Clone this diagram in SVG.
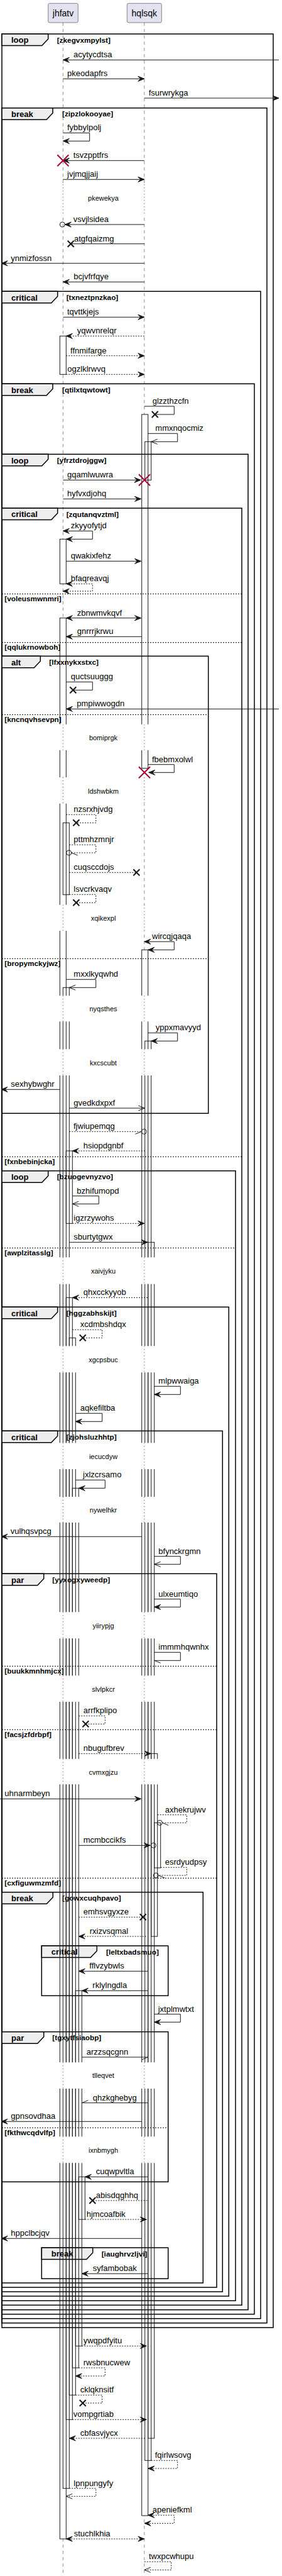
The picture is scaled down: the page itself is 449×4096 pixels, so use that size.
<svg xmlns="http://www.w3.org/2000/svg" xmlns:xlink="http://www.w3.org/1999/xlink" width="449" height="4096" viewBox="0 0 449 4096">
<style>
text{font-family:"Liberation Sans",Arial,sans-serif;fill:#000}
.ll{stroke:#181818;stroke-width:0.5;stroke-dasharray:5,5;fill:none}
.dl{stroke:#A80036;stroke-width:1;stroke-dasharray:1,4;fill:none}
.fr{fill:none;stroke:#000;stroke-width:1.5}
.tab{fill:#EEEEEE;stroke:#000;stroke-width:1.5}
.ft{font-size:13px;font-weight:bold}
.gt{font-size:11.8px;font-weight:bold}
.sep{stroke:#000;stroke-width:1;stroke-dasharray:2,2}
.m{fill:none;stroke:#181818;stroke-width:1}
.d{stroke-dasharray:2,2}
.t{font-size:13px}
.dt{font-size:11px;text-anchor:middle}
.x{stroke:#181818;stroke-width:2}
.rx{stroke:#A80036;stroke-width:2}
.c{fill:none;stroke:#181818;stroke-width:1}
.pb{fill:#E2E2F0;stroke:#181818;stroke-width:0.5}
.pt{font-size:14px;text-anchor:middle}
</style>
<defs>
<marker id="f" viewBox="-1 -1 12 10" refX="10" refY="4" markerWidth="12" markerHeight="10" markerUnits="userSpaceOnUse" orient="auto-start-reverse"><path d="M0,0 L10,4 L0,8 L4,4 Z" fill="#181818" stroke="#181818" stroke-width="1"/></marker>
<marker id="o" viewBox="-1 -1 12 10" refX="10" refY="4" markerWidth="12" markerHeight="10" markerUnits="userSpaceOnUse" orient="auto"><path d="M0,0 L10,4 L0,8" fill="none" stroke="#181818" stroke-width="1"/></marker>
<marker id="hp" viewBox="-1 -1 12 10" refX="10" refY="4" markerWidth="12" markerHeight="10" markerUnits="userSpaceOnUse" orient="auto"><path d="M0,8 L10,4" fill="none" stroke="#181818" stroke-width="1"/></marker>
<marker id="hm" viewBox="-1 -1 12 10" refX="10" refY="4" markerWidth="12" markerHeight="10" markerUnits="userSpaceOnUse" orient="auto"><path d="M0,0 L10,4" fill="none" stroke="#181818" stroke-width="1"/></marker>
<clipPath id="nd">
<rect x="0" y="0" width="449" height="293.3"/>
<rect x="0" y="341.7" width="449" height="810"/>
<rect x="0" y="1192.7" width="449" height="43.3"/>
<rect x="0" y="1277.7" width="449" height="161"/>
<rect x="0" y="1480" width="449" height="103.3"/>
<rect x="0" y="1624.3" width="449" height="44"/>
<rect x="0" y="1710" width="449" height="289.3"/>
<rect x="0" y="2041.7" width="449" height="98.6"/>
<rect x="0" y="2182.3" width="449" height="112"/>
<rect x="0" y="2336" width="449" height="44"/>
<rect x="0" y="2421" width="449" height="142.3"/>
<rect x="0" y="2605.3" width="449" height="59"/>
<rect x="0" y="2706" width="449" height="90.7"/>
<rect x="0" y="2837.3" width="449" height="442"/>
<rect x="0" y="3321" width="449" height="76.3"/>
<rect x="0" y="3439.3" width="449" height="656.7"/>
</clipPath>
<g id="acts">
<rect x="95.3" y="534.3" width="10" height="61"/>
<rect x="95.3" y="857.3" width="10" height="71"/>
<rect x="95.3" y="982.7" width="10" height="3054.3"/>
<rect x="100.3" y="1308.3" width="10" height="114.4"/>
<rect x="100.3" y="1570.3" width="10" height="2386.4"/>
<rect x="105.3" y="1830" width="10" height="115.3"/>
<rect x="105.3" y="2063.3" width="10" height="1784"/>
<rect x="110.3" y="2127.3" width="10" height="1681"/>
<rect x="115.3" y="2366.3" width="10" height="1398.7"/>
<rect x="120.3" y="3165.3" width="10" height="565"/>
<rect x="125.3" y="3461.3" width="10" height="67.7"/>
<rect x="225.7" y="659" width="10" height="562.7"/>
<rect x="230.7" y="702.3" width="10" height="61"/>
<rect x="225.7" y="1510.3" width="10" height="2489.7"/>
<rect x="230.7" y="1655.3" width="10" height="2257"/>
<rect x="235.7" y="1975.3" width="10" height="1901.7"/>
<rect x="240.7" y="2788.3" width="10" height="290.7"/>
<rect x="245.7" y="2898.3" width="10" height="71.7"/>
</g>
</defs>
<rect x="0" y="0" width="449" height="4096" fill="#fff"/>
<g id="lifelines">
<g clip-path="url(#nd)">
<line class="ll" x1="100.3" y1="36" x2="100.3" y2="4094"/>
<line class="ll" x1="229.8" y1="36" x2="229.8" y2="4094"/>
</g>
<path class="dl" d="M100.3,293.3V341.7M229.8,293.3V341.7M100.3,1151.7V1192.7M229.8,1151.7V1192.7M100.3,1236V1277.7M229.8,1236V1277.7M100.3,1438.7V1480M229.8,1438.7V1480M100.3,1583.3V1624.3M229.8,1583.3V1624.3M100.3,1668.3V1710M229.8,1668.3V1710M100.3,1999.3V2041.7M229.8,1999.3V2041.7M100.3,2140.3V2182.3M229.8,2140.3V2182.3M100.3,2294.3V2336M229.8,2294.3V2336M100.3,2380V2421M229.8,2380V2421M100.3,2563.3V2605.3M229.8,2563.3V2605.3M100.3,2664.3V2706M229.8,2664.3V2706M100.3,2796.7V2837.3M229.8,2796.7V2837.3M100.3,3279.3V3321M229.8,3279.3V3321M100.3,3397.3V3439.3M229.8,3397.3V3439.3"/>
</g>
<use href="#acts" xlink:href="#acts" fill="#fff" stroke="none" clip-path="url(#nd)"/>
<g id="frames">
<rect class="fr" x="3" y="54" width="432" height="3647"/>
<path class="tab" d="M3,54H76.7V62L66.7,72.5H3Z"/><text class="ft" x="18" y="68.3">loop</text><text class="gt" x="90.7" y="67.5">[zkegvxmpylst]</text>
<rect class="fr" x="3" y="171.7" width="422" height="3522"/>
<path class="tab" d="M3,171.7H84V179.7L74,190.2H3Z"/><text class="ft" x="18" y="186">break</text><text class="gt" x="99" y="185.2">[zipzlokooyae]</text>
<rect class="fr" x="3" y="463.3" width="412" height="3223.4"/>
<path class="tab" d="M3,463.3H91.7V471.3L81.7,481.8H3Z"/><text class="ft" x="18" y="477.6">critical</text><text class="gt" x="105.7" y="476.8">[txneztpnzkao]</text>
<rect class="fr" x="3" y="610.3" width="402" height="3069.4"/>
<path class="tab" d="M3,610.3H84V618.3L74,628.8H3Z"/><text class="ft" x="18" y="624.6">break</text><text class="gt" x="99" y="623.8">[qtilxtqwtowt]</text>
<rect class="fr" x="3" y="722.3" width="392" height="2950.4"/>
<path class="tab" d="M3,722.3H76.7V730.3L66.7,740.8H3Z"/><text class="ft" x="18" y="736.6">loop</text><text class="gt" x="90.7" y="735.8">[yfrztdrojggw]</text>
<rect class="fr" x="3" y="808" width="382" height="2857.3"/>
<path class="tab" d="M3,808H91.7V816L81.7,826.5H3Z"/><text class="ft" x="18" y="822.3">critical</text><text class="gt" x="105.7" y="821.5">[zqutanqvztml]</text>
<line class="sep" x1="3" y1="944.3" x2="385" y2="944.3"/><text class="gt" x="7.3" y="956">[voleusmwnmri]</text>
<line class="sep" x1="3" y1="1021.7" x2="385" y2="1021.7"/><text class="gt" x="7.3" y="1033.4">[qqlukrnowboh]</text>
<line class="sep" x1="3" y1="1839.3" x2="385" y2="1839.3"/><text class="gt" x="7.3" y="1851">[fxnbebinjcka]</text>
<rect class="fr" x="3" y="1043.3" width="328.7" height="727"/>
<path class="tab" d="M3,1043.3H64.3V1051.3L54.3,1061.8H3Z"/><text class="ft" x="18" y="1057.6">alt</text><text class="gt" x="78.3" y="1056.8">[lfxxnykxstxc]</text>
<line class="sep" x1="3" y1="1136.3" x2="331.7" y2="1136.3"/><text class="gt" x="7.3" y="1148">[kncnqvhsevpn]</text>
<line class="sep" x1="3" y1="1524.3" x2="331.7" y2="1524.3"/><text class="gt" x="7.3" y="1536">[bropymckyjwz]</text>
<rect class="fr" x="3" y="1861.7" width="372" height="1796.6"/>
<path class="tab" d="M3,1861.7H76.7V1869.7L66.7,1880.2H3Z"/><text class="ft" x="18" y="1876">loop</text><text class="gt" x="90.7" y="1875.2">[bzuogevnyzvo]</text>
<line class="sep" x1="3" y1="1984.3" x2="375" y2="1984.3"/><text class="gt" x="7.3" y="1996">[awplzitasslg]</text>
<rect class="fr" x="3" y="2078.3" width="361.3" height="1572.7"/>
<path class="tab" d="M3,2078.3H91.7V2086.3L81.7,2096.8H3Z"/><text class="ft" x="18" y="2092.6">critical</text><text class="gt" x="105.7" y="2091.8">[hggzabhskijt]</text>
<rect class="fr" x="3" y="2275.3" width="351.3" height="1368.7"/>
<path class="tab" d="M3,2275.3H91.7V2283.3L81.7,2293.8H3Z"/><text class="ft" x="18" y="2289.6">critical</text><text class="gt" x="105.7" y="2288.8">[zjohsluzhhtp]</text>
<rect class="fr" x="3" y="2502.3" width="342" height="1134.7"/>
<path class="tab" d="M3,2502.3H69.7V2510.3L59.7,2520.8H3Z"/><text class="ft" x="18" y="2516.6">par</text><text class="gt" x="83.3" y="2515.8">[yyxogxyweedp]</text>
<line class="sep" x1="3" y1="2649.3" x2="345" y2="2649.3"/><text class="gt" x="7.3" y="2661">[buukkmnhmjcx]</text>
<line class="sep" x1="3" y1="2750.3" x2="345" y2="2750.3"/><text class="gt" x="7.3" y="2762">[facsjzfdrbpf]</text>
<line class="sep" x1="3" y1="2986.3" x2="345" y2="2986.3"/><text class="gt" x="7.3" y="2998">[cxfiguwmzmfd]</text>
<rect class="fr" x="3" y="3008.7" width="320.3" height="621.3"/>
<path class="tab" d="M3,3008.7H84.3V3016.7L74.3,3027.2H3Z"/><text class="ft" x="18" y="3023">break</text><text class="gt" x="99" y="3022.2">[gowxcuqhpavo]</text>
<rect class="fr" x="66.3" y="3094" width="201.4" height="79.3"/>
<path class="tab" d="M66.3,3094H154.3V3102L144.3,3112.5H66.3Z"/><text class="ft" x="81.7" y="3108.3">critical</text><text class="gt" x="169" y="3107.5">[leltxbadsmuo]</text>
<rect class="fr" x="3" y="3230.7" width="264.7" height="238.6"/>
<path class="tab" d="M3,3230.7H69.7V3238.7L59.7,3249.2H3Z"/><text class="ft" x="18" y="3245">par</text><text class="gt" x="83.3" y="3244.2">[tgxytfsiaobp]</text>
<line class="sep" x1="3" y1="3383.3" x2="267.7" y2="3383.3"/><text class="gt" x="7.3" y="3395">[fkthwcqdvlfp]</text>
<rect class="fr" x="66.3" y="3574" width="201.4" height="49.3"/>
<path class="tab" d="M66.3,3574H147.7V3582L137.7,3592.5H66.3Z"/><text class="ft" x="81.7" y="3588.3">break</text><text class="gt" x="161.7" y="3587.5">[iaughrvzljvi]</text>
</g>
<use href="#acts" xlink:href="#acts" fill="none" stroke="#181818" stroke-width="1" clip-path="url(#nd)"/>
<g id="delays">
<text class="dt" x="164.5" y="318.5">pkewekya</text>
<text class="dt" x="164.5" y="1176.8">bomiprgk</text>
<text class="dt" x="164.5" y="1261.8">ldshwbkm</text>
<text class="dt" x="164.5" y="1463.5">xqikexpl</text>
<text class="dt" x="164.5" y="1607.8">nyqsthes</text>
<text class="dt" x="164.5" y="1693.5">kxcscubt</text>
<text class="dt" x="164.5" y="2024.5">xaivjyku</text>
<text class="dt" x="164.5" y="2165.8">xgcpsbuc</text>
<text class="dt" x="164.5" y="2319.8">iecucdyw</text>
<text class="dt" x="164.5" y="2404.8">nywelhkr</text>
<text class="dt" x="164.5" y="2589.2">yiirypjg</text>
<text class="dt" x="164.5" y="2689.5">slvlpkcr</text>
<text class="dt" x="164.5" y="2821.8">cvmxgjzu</text>
<text class="dt" x="164.5" y="3304.2">tlleqvet</text>
<text class="dt" x="164.5" y="3422.8">ixnbmygh</text>
</g>
<g id="jhfatv"><rect class="pb" x="76.7" y="5.3" width="47.6" height="30.7" rx="2.5"/><text class="pt" x="100.5" y="26">jhfatv</text></g>
<g id="hqlsqk"><rect class="pb" x="202.3" y="5.3" width="55" height="30.7" rx="2.5"/><text class="pt" x="229.8" y="26">hqlsqk</text></g>
<g id="connectors">
<line class="m" x1="444" y1="95.3" x2="100.3" y2="95.3" marker-end="url(#f)"/><text class="t" x="117" y="91.3">acytycdtsa</text>
<line class="m" x1="100.3" y1="125.3" x2="229.8" y2="125.3" marker-end="url(#f)"/><text class="t" x="107" y="121.3">pkeodapfrs</text>
<line class="m" x1="229.8" y1="156" x2="444" y2="156" marker-end="url(#f)"/><text class="t" x="236.7" y="152">fsurwrykga</text>
<path class="m" d="M100.3,211.3H142.7V224.3H100.3" marker-end="url(#f)"/><text class="t" x="107" y="207.3">fybbylpolj</text>
<line class="m" x1="229.8" y1="255.3" x2="100.3" y2="255.3" marker-end="url(#f)"/><path class="rx" d="M91.3,246.3L109.3,264.3M109.3,246.3L91.3,264.3"/><text class="t" x="116.7" y="251.3">tsvzpptfrs</text>
<line class="m" x1="100.3" y1="285.3" x2="229.8" y2="285.3" marker-end="url(#f)"/><text class="t" x="107" y="281.3">jvjmqjjaij</text>
<line class="m" x1="229.8" y1="357" x2="103.3" y2="357" marker-end="url(#f)"/><circle class="c" cx="99.3" cy="357" r="4"/><text class="t" x="116.7" y="353">vsvjlsidea</text>
<line class="m" x1="229.8" y1="387.7" x2="112.7" y2="387.7"/><path class="x" d="M107.7,382.7L117.7,392.7M117.7,382.7L107.7,392.7"/><text class="t" x="118" y="383.7">atgfqaizmg</text>
<line class="m" x1="229.8" y1="418.7" x2="2" y2="418.7" marker-end="url(#f)"/><text class="t" x="17.3" y="414.7">ynmizfossn</text>
<line class="m" x1="229.8" y1="448.3" x2="100.3" y2="448.3" marker-end="url(#f)"/><text class="t" x="117.3" y="444.3">bcjvfrfqye</text>
<line class="m" x1="100.3" y1="504.3" x2="229.8" y2="504.3" marker-end="url(#f)"/><text class="t" x="107" y="500.3">tqvttkjejs</text>
<line class="m d" x1="229.8" y1="534.3" x2="105.3" y2="534.3" marker-end="url(#f)"/><text class="t" x="122.7" y="530.3">yqwvnrelqr</text>
<line class="m d" x1="105.3" y1="565.7" x2="229.8" y2="565.7" marker-end="url(#f)"/><text class="t" x="112" y="561.7">ffnmifarge</text>
<line class="m d" x1="105.3" y1="595.3" x2="229.8" y2="595.3" marker-end="url(#f)"/><text class="t" x="107.3" y="591.3">ogzlklrwvq</text>
<path class="m" d="M229.8,646H277.3V659H246.7"/><path class="x" d="M241.7,654L251.7,664M251.7,654L241.7,664"/><text class="t" x="242.7" y="642">glzzthzcfn</text>
<path class="m" d="M235.7,689.3H282.7V702.3H240.7" marker-end="url(#o)"/><text class="t" x="247.3" y="685.3">mmxnqocmiz</text>
<line class="m" x1="100.3" y1="763.3" x2="224" y2="763.3" marker-end="url(#f)"/><path class="rx" d="M221,754.3L239,772.3M239,754.3L221,772.3"/><text class="t" x="107" y="759.3">gqamlwuwra</text>
<line class="m" x1="100.3" y1="793.3" x2="224.5" y2="793.3" marker-end="url(#f)"/><text class="t" x="107" y="789.3">hyfvxdjohq</text>
<path class="m" d="M100.3,844.3H147.3V857.3H105.3" marker-start="url(#f)" marker-end="url(#f)"/><text class="t" x="112.7" y="840.3">zkyyofytjd</text>
<line class="m" x1="105.3" y1="892.3" x2="224.5" y2="892.3" marker-end="url(#f)"/><text class="t" x="112.7" y="888.3">qwakixfehz</text>
<path class="m d" d="M105.3,928.3H147.3V940H100.3" marker-start="url(#f)" marker-end="url(#f)"/><text class="t" x="112.7" y="924.3">bfaqreavqj</text>
<line class="m" x1="105.3" y1="982.7" x2="224.5" y2="982.7" marker-start="url(#f)" marker-end="url(#f)"/><text class="t" x="122.7" y="978.7">zbnwmvkqvf</text>
<line class="m" x1="225.7" y1="1012.3" x2="105.3" y2="1012.3" marker-end="url(#f)"/><text class="t" x="122.7" y="1008.3">gnrrrjkrwu</text>
<path class="m" d="M105.3,1084.3H147.3V1097.3H116.3"/><path class="x" d="M111.3,1092.3L121.3,1102.3M121.3,1092.3L111.3,1102.3"/><text class="t" x="112.7" y="1080.3">quctsuuggg</text>
<line class="m" x1="444" y1="1127.3" x2="105.3" y2="1127.3" marker-end="url(#f)"/><text class="t" x="122.3" y="1123.3">pmpiwwogdn</text>
<path class="m" d="M235.7,1215.7H277.3V1228.3H236.7" marker-end="url(#f)"/><path class="rx" d="M221,1219.3L239,1237.3M239,1219.3L221,1237.3"/><text class="t" x="242" y="1211.7">fbebmxolwl</text>
<path class="m d" d="M105.3,1295.3H152.7V1308.3H121.3"/><path class="x" d="M116.3,1303.3L126.3,1313.3M126.3,1303.3L116.3,1313.3"/><text class="t" x="117.3" y="1291.3">nzsrxhjvdg</text>
<path class="m d" d="M110.3,1343.3H152.7V1356H113.7" marker-end="url(#hm)"/><circle class="c" cx="109.7" cy="1356" r="4"/><text class="t" x="117.3" y="1339.3">pttmhzmnjr</text>
<line class="m d" x1="110.3" y1="1387.3" x2="217.3" y2="1387.3"/><path class="x" d="M212.3,1382.3L222.3,1392.3M222.3,1382.3L212.3,1392.3"/><text class="t" x="117.3" y="1383.3">cuqsccdojs</text>
<path class="m d" d="M110.3,1422.3H152.7V1435.3H121.3"/><path class="x" d="M116.3,1430.3L126.3,1440.3M126.3,1430.3L116.3,1440.3"/><text class="t" x="117.3" y="1418.3">lsvcrkvaqv</text>
<path class="m" d="M229.8,1497.3H277.3V1510.3H235.7" marker-start="url(#f)" marker-end="url(#f)"/><text class="t" x="242" y="1493.3">wircqjqaqa</text>
<path class="m" d="M105.3,1557.3H152.7V1570.3H110.3" marker-end="url(#o)"/><text class="t" x="117.3" y="1553.3">mxxlkyqwhd</text>
<path class="m" d="M235.7,1642.3H282.7V1655.3H240.7" marker-end="url(#f)"/><text class="t" x="247.7" y="1638.3">yppxmavyyd</text>
<line class="m" x1="95.3" y1="1732.3" x2="2" y2="1732.3" marker-end="url(#f)"/><text class="t" x="17.3" y="1728.3">sexhybwghr</text>
<line class="m" x1="110.3" y1="1762" x2="230.3" y2="1762" marker-end="url(#o)"/><text class="t" x="117.3" y="1758">gvedkdxpxf</text>
<line class="m d" x1="110.3" y1="1799.3" x2="225.3" y2="1799.3" marker-end="url(#hp)"/><circle class="c" cx="229.3" cy="1799.3" r="4"/><text class="t" x="117" y="1795.3">fjwiupemqg</text>
<line class="m d" x1="230.7" y1="1830" x2="115.3" y2="1830" marker-end="url(#f)"/><text class="t" x="132.7" y="1826">hsiopdgnbf</text>
<path class="m" d="M115.3,1901.7H157.3V1914.3H115.3" marker-end="url(#o)"/><text class="t" x="122.3" y="1897.7">bzhifumopd</text>
<line class="m d" x1="115.3" y1="1945.3" x2="229.8" y2="1945.3" marker-end="url(#f)"/><text class="t" x="117.3" y="1941.3">igzrzywohs</text>
<line class="m" x1="110.3" y1="1975.3" x2="235.3" y2="1975.3" marker-end="url(#f)"/><text class="t" x="117.3" y="1971.3">sburtytgwx</text>
<line class="m d" x1="235" y1="2063.3" x2="115.3" y2="2063.3" marker-end="url(#f)"/><text class="t" x="132.7" y="2059.3">qhxcckyyob</text>
<path class="m d" d="M115.3,2114.3H162.7V2127.3H131.7"/><path class="x" d="M126.7,2122.3L136.7,2132.3M136.7,2122.3L126.7,2132.3"/><text class="t" x="127.7" y="2110.3">xcdmbshdqx</text>
<path class="m" d="M245.7,2204.3H287.3V2217.3H245.7" marker-end="url(#f)"/><text class="t" x="252.3" y="2200.3">mlpwwaiga</text>
<path class="m" d="M120.3,2247.3H162.7V2260.3H120.3" marker-end="url(#f)"/><text class="t" x="127.7" y="2243.3">aqkefiltba</text>
<path class="m" d="M120.3,2353.3H167.3V2366.3H125.3" marker-end="url(#f)"/><text class="t" x="132" y="2349.3">jxlzcrsamo</text>
<line class="m" x1="225.7" y1="2443.3" x2="2" y2="2443.3" marker-end="url(#f)"/><text class="t" x="16.7" y="2439.3">vulhqsvpcg</text>
<path class="m" d="M245.7,2474.7H287.3V2487.3H245.7" marker-end="url(#o)"/><text class="t" x="252.3" y="2470.7">bfynckrgmn</text>
<path class="m" d="M245.7,2542.7H287.3V2555.3H245.7" marker-end="url(#f)"/><text class="t" x="252.3" y="2538.7">ulxeumtiqo</text>
<path class="m" d="M245.7,2627.3H287.3V2640.3H245.7" marker-end="url(#hm)"/><text class="t" x="252.3" y="2623.3">immmhqwnhx</text>
<path class="m d" d="M125.3,2728.3H167.3V2741.3H136.3"/><path class="x" d="M131.3,2736.3L141.3,2746.3M141.3,2736.3L131.3,2746.3"/><text class="t" x="132.7" y="2724.3">arrfkplipo</text>
<line class="m d" x1="125.3" y1="2788.3" x2="240.3" y2="2788.3" marker-end="url(#f)"/><text class="t" x="132.7" y="2784.3">nbugufbrev</text>
<line class="m" x1="0" y1="2860.3" x2="224.5" y2="2860.3" marker-end="url(#f)"/><text class="t" x="7.3" y="2856.3">uhnarmbeyn</text>
<path class="m d" d="M250.7,2885.7H297.3V2898.3H258.3" marker-end="url(#hm)"/><circle class="c" cx="254.3" cy="2898.3" r="4"/><text class="t" x="262.7" y="2881.7">axhekrujwv</text>
<line class="m" x1="125.3" y1="2934.3" x2="239.3" y2="2934.3" marker-end="url(#f)"/><circle class="c" cx="244.3" cy="2934.3" r="4"/><text class="t" x="132.7" y="2930.3">mcmbccikfs</text>
<path class="m d" d="M255.7,2969.3H297.3V2982H252.3" marker-end="url(#hm)"/><circle class="c" cx="248.3" cy="2982" r="4"/><text class="t" x="262.7" y="2965.3">esrdyudpsy</text>
<line class="m d" x1="125.3" y1="3048.3" x2="227.7" y2="3048.3"/><path class="x" d="M222.7,3043.3L232.7,3053.3M232.7,3043.3L222.7,3053.3"/><text class="t" x="132.7" y="3044.3">emhsvgyxze</text>
<line class="m d" x1="232.7" y1="3079" x2="125.3" y2="3079" marker-end="url(#f)"/><text class="t" x="142.7" y="3075">rxizvsqmal</text>
<line class="m" x1="235.7" y1="3134.3" x2="125.3" y2="3134.3" marker-end="url(#f)"/><text class="t" x="142.3" y="3130.3">fflvzybwls</text>
<line class="m" x1="235.7" y1="3165.3" x2="130.3" y2="3165.3" marker-end="url(#f)"/><text class="t" x="147.3" y="3161.3">rklylngdla</text>
<path class="m" d="M245.7,3202.7H287.3V3215.3H245.7" marker-end="url(#f)"/><text class="t" x="251.7" y="3198.7">jxtplmwtxt</text>
<line class="m" x1="130.3" y1="3271" x2="235.7" y2="3271" marker-end="url(#hp)"/><text class="t" x="137.7" y="3267">arzzsqcgnn</text>
<line class="m" x1="235.7" y1="3343.7" x2="130.3" y2="3343.7" marker-end="url(#hp)"/><text class="t" x="147.7" y="3339.7">qhzkghebyg</text>
<line class="m" x1="225.7" y1="3373.3" x2="2" y2="3373.3" marker-end="url(#f)"/><text class="t" x="17.3" y="3369.3">gpnsovdhaa</text>
<line class="m" x1="235.7" y1="3461.3" x2="135.3" y2="3461.3" marker-end="url(#f)"/><text class="t" x="152.7" y="3457.3">cuqwpvltla</text>
<line class="m d" x1="234.3" y1="3499" x2="147.3" y2="3499"/><path class="x" d="M142.3,3494L152.3,3504M152.3,3494L142.3,3504"/><text class="t" x="152.7" y="3495">abisdqghhq</text>
<line class="m d" x1="135.3" y1="3529" x2="233.3" y2="3529" marker-end="url(#f)"/><text class="t" x="137.7" y="3525">hjmcoafbik</text>
<line class="m" x1="225.7" y1="3559.3" x2="2" y2="3559.3" marker-end="url(#f)"/><text class="t" x="17.3" y="3555.3">hppclbcjqv</text>
<line class="m" x1="235.7" y1="3615.3" x2="130.3" y2="3615.3" marker-end="url(#f)"/><text class="t" x="147.7" y="3611.3">syfambobak</text>
<line class="m d" x1="130.3" y1="3730.3" x2="233.3" y2="3730.3" marker-end="url(#f)"/><text class="t" x="132.7" y="3726.3">ywqpdfyitu</text>
<path class="m d" d="M125.3,3765H167.3V3778H120.3" marker-end="url(#f)"/><text class="t" x="132.7" y="3761">rwsbnucwew</text>
<path class="m d" d="M120.3,3808.3H162.7V3821H131.7"/><path class="x" d="M126.7,3816L136.7,3826M136.7,3816L126.7,3826"/><text class="t" x="127.7" y="3804.3">cklqknsitf</text>
<line class="m d" x1="115.3" y1="3847.3" x2="233.3" y2="3847.3" marker-end="url(#f)"/><text class="t" x="116.7" y="3843.3">vompgrtiab</text>
<line class="m d" x1="230.7" y1="3877" x2="110.3" y2="3877" marker-end="url(#f)"/><text class="t" x="127.7" y="3873">cbfasvjycx</text>
<path class="m d" d="M240.7,3912.3H282.7V3925H235.7" marker-end="url(#f)"/><text class="t" x="246.7" y="3908.3">fqirlwsovg</text>
<path class="m d" d="M110.3,3956.7H152.7V3969.3H105.3" marker-end="url(#o)"/><text class="t" x="117.3" y="3952.7">lpnpungyfy</text>
<path class="m d" d="M235.7,3999.3H277.3V4012.3H230" marker-start="url(#f)" marker-end="url(#f)"/><text class="t" x="242.7" y="3995.3">apeniefkml</text>
<line class="m d" x1="105.3" y1="4037" x2="229.8" y2="4037" marker-start="url(#f)" marker-end="url(#f)"/><text class="t" x="117.7" y="4033">stuchlkhia</text>
<path class="m d" d="M229.8,4073.3H272.7V4086.3H229.8" marker-end="url(#o)"/><text class="t" x="237" y="4069.3">twxpcwhupu</text>
</g>
</svg>
